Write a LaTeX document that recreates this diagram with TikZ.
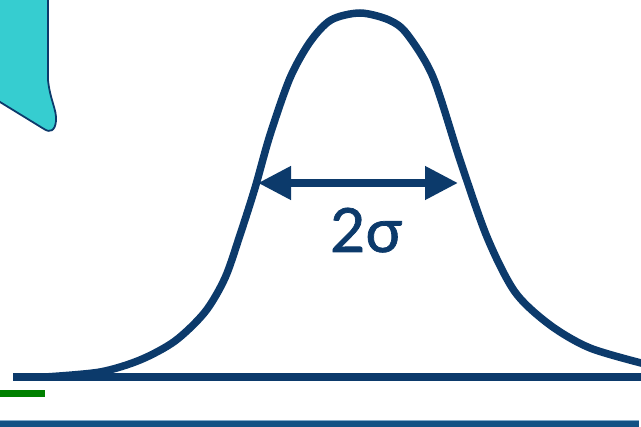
\documentclass[tikz,border=0pt]{standalone}
\usepackage{fontspec}
\newfontfamily\labelfont[FakeBold=1.2]{Lato}
\usetikzlibrary{positioning,arrows.meta,calc}
\definecolor{curveBlue}{RGB}{12, 58, 107}
\definecolor{blobCyan}{RGB}{54, 205, 208}
\definecolor{lineGreen}{RGB}{0, 128, 0}
\definecolor{barBlue}{RGB}{18, 82, 132}
\definecolor{barEdge}{RGB}{130, 170, 200}

\begin{document}
\begin{tikzpicture}[
    x=1pt, y=-1pt,
    curve/.style={draw=curveBlue, line width=7.5pt, line join=round},
    axis/.style={draw=curveBlue, line width=8pt},
    width/.style={draw=curveBlue, line width=7.5pt, {Triangle[length=33pt,width=32pt]}-{Triangle[length=33pt,width=32pt]}},
    blob/.style={draw=curveBlue, line width=1.8pt, fill=blobCyan},
    lbl/.style={text=curveBlue, font=\labelfont\fontsize{61}{61}\selectfont, inner sep=0pt}
]
    \useasboundingbox (0,0) rectangle (641,427);

    % shape cut off at the top left
    \draw[blob] (-10,-10) -- (48,-10) -- (48,80)
        .. controls (50,100) and (57,110) .. (56,121)
        .. controls (55,131) and (50,133) .. (44,129)
        -- (0,102) -- (-10,96) -- cycle;

    % bell curve and its base line
    \draw[axis] (13,377) -- (645,377);
    \draw[curve] plot[smooth, tension=0.5] coordinates {
        (45,377) (100,372) (140,360) (175,341) (205,312) (225,278)
        (240,235) (255,188) (270,135) (290,78) (310,42) (331,20)
        (360,13) (389,20) (407,34) (433,77) (460,160) (487,237)
        (515,292) (550,325) (590,348) (645,364)};

    % width of the peak
    \coordinate (sigL) at (258,183);
    \coordinate (sigR) at (458,183);
    \draw[width] (sigL) -- (sigR);
    \node[lbl, anchor=base] (sig) at (366,252) {2σ};

    % lines at the bottom
    \fill[lineGreen] (0,390) rectangle (45,397);
    \fill[barBlue] (0,421.5) rectangle (639,430);
    \draw[barEdge, line width=1pt] (0,421) -- (639,421);
\end{tikzpicture}
\end{document}
